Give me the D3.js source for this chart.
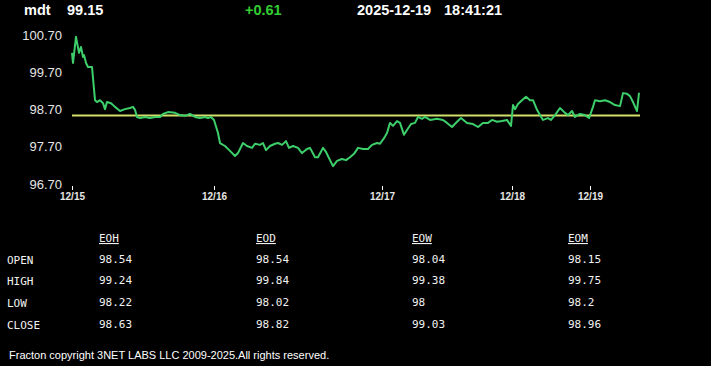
<!DOCTYPE html>
<html>
<head>
<meta charset="utf-8">
<script src="https://cdn.jsdelivr.net/npm/d3@7"></script>
<style>
	body { margin: 0; background: #000; overflow: hidden; }
	svg { display: block; }
</style>
</head>
<body>
<div id="chartbox"></div>
<script>
var SYMBOL = "mdt";
var LAST = "99.15";
var CHANGE = "+0.61";
var QUOTE_DATE = "2025-12-19";
var QUOTE_TIME = "18:41:21";
var COPYRIGHT = "Fracton copyright 3NET LABS LLC 2009-2025.All rights reserved.";

// bar number, price
var priceBars = [
	[0, 100.22], [1, 99.95], [4, 100.65], [7, 100.22], [9, 100.38], [11, 100.11], [12, 100.16],
	[14, 99.95], [16, 99.84], [20, 99.84], [23, 98.95], [25, 98.90], [28, 98.95], [31, 98.87],
	[33, 98.71], [35, 98.90], [39, 98.87], [43, 98.77], [48, 98.66], [53, 98.71], [58, 98.74],
	[61, 98.77], [63, 98.69], [65, 98.50], [68, 98.47], [73, 98.50], [78, 98.47], [83, 98.50],
	[88, 98.50], [91, 98.58], [96, 98.63], [103, 98.61], [108, 98.55], [113, 98.53], [118, 98.58],
	[123, 98.50], [128, 98.47], [133, 98.50], [136, 98.47], [139, 98.50], [142, 98.42],
	[146, 98.07], [148, 97.80], [153, 97.72], [158, 97.59], [163, 97.45], [166, 97.53], [171, 97.80],
	[175, 97.72], [180, 97.67], [183, 97.78], [188, 97.75], [191, 97.80], [194, 97.61], [198, 97.72],
	[203, 97.78], [206, 97.80], [210, 97.75], [214, 97.85], [217, 97.67], [221, 97.72], [226, 97.67],
	[230, 97.53], [235, 97.64], [238, 97.67], [243, 97.42], [246, 97.42], [251, 97.67], [254, 97.56],
	[258, 97.34], [261, 97.18], [265, 97.32], [270, 97.37], [274, 97.34], [278, 97.42], [282, 97.51],
	[286, 97.67], [291, 97.64], [296, 97.64], [300, 97.75], [305, 97.80], [308, 97.78], [312, 97.93],
	[315, 98.07], [318, 98.34], [321, 98.26], [325, 98.39], [328, 98.34], [332, 98.02], [335, 98.15],
	[339, 98.31], [343, 98.34], [346, 98.50], [350, 98.45], [353, 98.50],
	[358, 98.42], [365, 98.45], [371, 98.42], [375, 98.34], [380, 98.23], [385, 98.37], [389, 98.47],
	[395, 98.34], [401, 98.31], [406, 98.23], [411, 98.34], [416, 98.34], [420, 98.42], [425, 98.37],
	[430, 98.39], [435, 98.42], [439, 98.26], [441, 98.82], [443, 98.71], [446, 98.85], [450, 98.95],
	[454, 99.04], [458, 98.95], [461, 98.95], [465, 98.69], [468, 98.55], [471, 98.42], [476, 98.47],
	[479, 98.42], [483, 98.55], [488, 98.74], [493, 98.61], [496, 98.55], [500, 98.66], [503, 98.50],
	[508, 98.58], [513, 98.55], [517, 98.47], [521, 98.77], [523, 98.95], [528, 98.92], [533, 98.95],
	[538, 98.90], [543, 98.82], [548, 98.79], [551, 99.14], [555, 99.12], [558, 99.06], [561, 98.90],
	[565, 98.66], [567, 99.15]
];

var dayStartBars = [0, 142, 310, 440, 518];
var dayLabels = ["12/15", "12/16", "12/17", "12/18", "12/19"];
var priceTicks = [96.70, 97.70, 98.70, 99.70, 100.70];

var statRows = ["OPEN", "HIGH", "LOW", "CLOSE"];
var statCols = ["EOH", "EOD", "EOW", "EOM"];
var eohValues = ["98.54", "99.24", "98.22", "98.63"];
var eodValues = ["98.54", "99.84", "98.02", "98.82"];
var eowValues = ["98.04", "99.38", "98", "99.03"];
var eomValues = ["98.15", "99.75", "98.2", "98.96"];
var openLevel = 98.54;

var WIDTH = 711;
var HEIGHT = 366;

function drawChart() {

	var svg = d3.select("#chartbox").append("svg")
		.attr("width", WIDTH)
		.attr("height", HEIGHT);

	svg.append("rect").attr("width", WIDTH).attr("height", HEIGHT).attr("fill", "#000");

	// header line
	var head = svg.append("g")
		.attr("font-family", "Liberation Sans, Arial, sans-serif")
		.attr("font-weight", "bold")
		.attr("font-size", "14.5px")
		.attr("fill", "#fff");
	head.append("text").attr("x", 24).attr("y", 15).text(SYMBOL);
	head.append("text").attr("x", 67).attr("y", 15).text(LAST);
	head.append("text").attr("x", 245).attr("y", 15).attr("fill", "#33cc33").text(CHANGE);
	head.append("text").attr("x", 357).attr("y", 15).text(QUOTE_DATE);
	head.append("text").attr("x", 444).attr("y", 15).text(QUOTE_TIME);

	var x = d3.scaleLinear()
		.domain([0, d3.max(priceBars, function (d) { return d[0]; })])
		.range([72, 639]);

	var y = d3.scaleLinear()
		.domain([96.70, 100.70])
		.range([184, 35]);

	// price axis, labels only
	var yAxis = svg.append("g")
		.attr("transform", "translate(64,0)")
		.call(d3.axisLeft(y).tickValues(priceTicks).tickFormat(d3.format(".2f")).tickSize(0).tickPadding(2));
	yAxis.select(".domain").remove();
	yAxis.selectAll("text")
		.attr("fill", "#e6e6e6")
		.attr("font-family", "Liberation Sans, Arial, sans-serif")
		.attr("font-size", "13px");

	// day axis
	var xAxis = svg.append("g")
		.attr("transform", "translate(0,186)")
		.call(d3.axisBottom(x).tickValues(dayStartBars)
			.tickFormat(function (d, i) { return dayLabels[i]; })
			.tickSize(4).tickPadding(2.5));
	xAxis.select(".domain").remove();
	xAxis.selectAll("line").attr("stroke", "#fff");
	xAxis.selectAll("text")
		.attr("fill", "#e6e6e6")
		.attr("font-family", "Liberation Sans, Arial, sans-serif")
		.attr("font-weight", "bold")
		.attr("font-size", "10px");

	svg.append("line")
		.attr("x1", x(0)).attr("x2", x(567) + 1)
		.attr("y1", y(openLevel)).attr("y2", y(openLevel))
		.attr("stroke", "#d2e06a")
		.attr("stroke-width", 2);

	var line = d3.line()
		.x(function (d) { return x(d[0]); })
		.y(function (d) { return y(d[1]); });

	svg.append("path")
		.datum(priceBars)
		.attr("d", line)
		.attr("fill", "none")
		.attr("stroke", "#3ccf6a")
		.attr("stroke-width", 2)
		.attr("stroke-linejoin", "round");

	// stats table
	var colX = [99, 256, 412, 568];
	var rowY = [264, 285, 307, 329];
	var colValues = [eohValues, eodValues, eowValues, eomValues];

	var table = svg.append("g")
		.attr("font-family", "DejaVu Sans Mono, monospace")
		.attr("font-size", "11px")
		.attr("fill", "#f2f2f2");

	table.selectAll(".colhead")
		.data(statCols)
		.enter().append("text")
		.attr("class", "colhead")
		.attr("x", function (d, i) { return colX[i]; })
		.attr("y", 242)
		.attr("text-decoration", "underline")
		.text(function (d) { return d; });

	table.selectAll(".rowhead")
		.data(statRows)
		.enter().append("text")
		.attr("class", "rowhead")
		.attr("x", 7)
		.attr("y", function (d, i) { return rowY[i]; })
		.text(function (d) { return d; });

	colValues.forEach(function (vals, c) {
		table.selectAll(".val" + c)
			.data(vals)
			.enter().append("text")
			.attr("class", "val" + c)
			.attr("x", colX[c])
			.attr("y", function (d, i) { return rowY[i] - 1; })
			.text(function (d) { return d; });
	});

	svg.append("text")
		.attr("x", 9)
		.attr("y", 359)
		.attr("font-family", "Liberation Sans, Arial, sans-serif")
		.attr("font-size", "11px")
		.attr("fill", "#fff")
		.text(COPYRIGHT);

}

drawChart();
</script>
</body>
</html>
